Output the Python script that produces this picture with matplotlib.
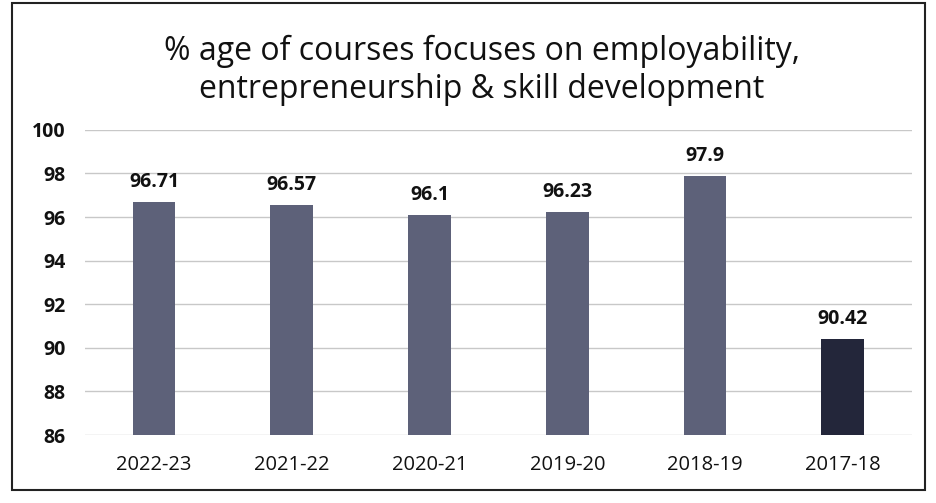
import matplotlib.pyplot as plt
from matplotlib.patches import Rectangle

# data
years = ['2022-23', '2021-22', '2020-21', '2019-20', '2018-19', '2017-18']
percent = [96.71, 96.57, 96.1, 96.23, 97.9, 90.42]
bar_colors = ['#5d6179', '#5d6179', '#5d6179', '#5d6179', '#5d6179', '#23263a']
y_ticks = [86, 88, 90, 92, 94, 96, 98, 100]

plt.rcParams['font.family'] = ['Open Sans', 'DejaVu Sans']

fig = plt.figure(figsize=(9.36, 5.03), dpi=100)
ax = fig.add_axes([0.091, 0.135, 0.883, 0.607])

x = range(len(years))
bars = ax.bar(x, percent, width=0.31, color=bar_colors, zorder=3)

for xi, val in zip(x, percent):
    ax.text(xi, val + 0.45, f'{val:g}', ha='center', va='bottom',
            fontsize=14, fontweight='bold', color='#111111')

ax.set_ylim(86, 100)
ax.set_xlim(-0.5, len(years) - 0.5)
ax.set_yticks(y_ticks)
ax.set_yticklabels([str(t) for t in y_ticks], fontsize=14, fontweight='bold', color='#111111')
ax.set_xticks(list(x))
ax.set_xticklabels(years, fontsize=14.5, color='#111111')
ax.tick_params(length=0, pad=14)
ax.tick_params(axis='x', pad=14)

ax.grid(axis='y', color='#c8c8c8', linewidth=1, zorder=0)
for s in ax.spines.values():
    s.set_visible(False)

fig.text(0.515, 0.86, '% age of courses focuses on employability,\nentrepreneurship & skill development',
         ha='center', va='center', fontsize=23, color='#111111', linespacing=1.22)

# outer border of the chart
fig.patches.append(Rectangle((0.013, 0.025), 0.975, 0.97, transform=fig.transFigure,
                             fill=False, edgecolor='#222222', linewidth=1.5))

fig.savefig('out.png', dpi=100)
